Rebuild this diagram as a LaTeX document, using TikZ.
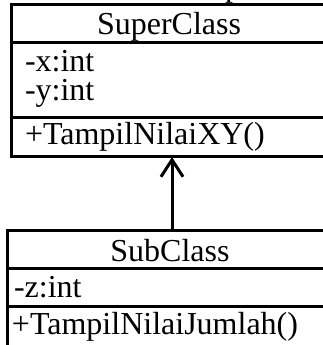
\documentclass[tikz,border=0pt]{standalone}
\usepackage{fontspec}
\setmainfont{Liberation Serif}
\usetikzlibrary{arrows.meta}
\begin{document}
\begin{tikzpicture}[x=1pt,y=1pt,
  umlline/.style={line width=3pt},
  txt/.style={inner sep=0pt,outer sep=0pt,font=\fontsize{32}{38}\selectfont},
  lefttxt/.style={txt,anchor=base west},
  midtxt/.style={txt,anchor=base}]
\useasboundingbox (0,0) rectangle (323,345);
\clip (0,0) rectangle (323,345);
% caption fragment at top
\node[midtxt] (cap) at (233,348) {p};
% SuperClass
\draw[umlline] (340,340) -- (11,340) -- (11,188) -- (340,188);
\draw[umlline] (11,302) -- (340,302);
\draw[umlline] (11,227) -- (340,227);
\node[midtxt] (supername) at (169,310) {SuperClass};
\node[lefttxt] (x) at (25,273) {-x:int};
\node[lefttxt] (y) at (25,244) {-y:int};
\node[lefttxt] (m1) at (25,200) {+TampilNilaiXY()};
\coordinate (superbottom) at (172,188);
% SubClass
\draw[umlline] (340,114) -- (7,114) -- (7,-5);
\draw[umlline] (7,76) -- (340,76);
\draw[umlline] (7,38) -- (340,38);
\node[midtxt] (subname) at (170,83) {SubClass};
\node[lefttxt] (z) at (14,47) {-z:int};
\node[lefttxt] (m2) at (12,10) {+TampilNilaiJumlah()};
\coordinate (subtop) at (172,114);
% inheritance arrow
\draw[umlline,-{Straight Barb[length=17pt,width=22pt,line width=3pt]}] (subtop) -- (superbottom);
\end{tikzpicture}
\end{document}
